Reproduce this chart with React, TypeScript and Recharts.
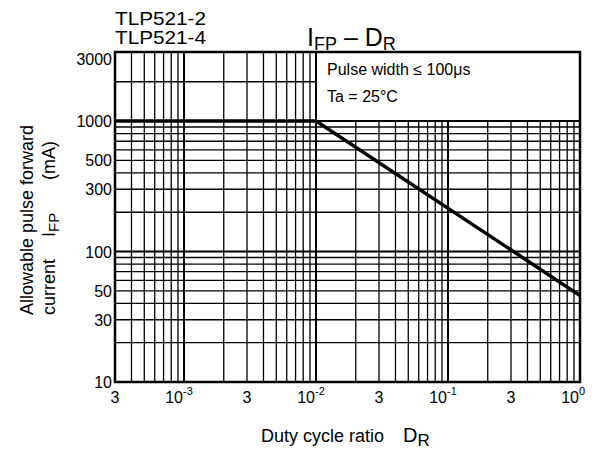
import React from 'react';
import {
  ComposedChart,
  Line,
  XAxis,
  YAxis,
  ReferenceLine,
  ReferenceArea,
} from 'recharts';

// ---------------------------------------------------------------------------
// Data
// ---------------------------------------------------------------------------

const dutyCycle = [3e-4, 1e-2, 1];
const pulseCurrent = [1000, 1000, 46];

const xTicks = [3e-4, 1e-3, 3e-3, 1e-2, 3e-2, 1e-1, 3e-1, 1];
const xTickLabels = ['3', '10^-3', '3', '10^-2', '3', '10^-1', '3', '10^0'];
const yTicks = [10, 30, 50, 100, 300, 500, 1000, 3000];

const xGrid = [
  4e-4, 5e-4, 6e-4, 7e-4, 8e-4, 9e-4,
  1e-3, 2e-3, 3e-3, 4e-3, 5e-3, 6e-3, 7e-3, 8e-3, 9e-3,
  1e-2, 2e-2, 3e-2, 4e-2, 5e-2, 6e-2, 7e-2, 8e-2, 9e-2,
  1e-1, 2e-1, 3e-1, 4e-1, 5e-1, 6e-1, 7e-1, 8e-1, 9e-1,
];
const yGrid = [
  20, 30, 40, 50, 60, 70, 80, 90,
  100, 200, 300, 400, 500, 600, 700, 800, 900,
  1000, 2000,
];
const majorLines = [1e-3, 1e-2, 1e-1, 100, 1000];

const X_MIN = 3e-4;
const X_MAX = 1;
const Y_MIN = 10;
const Y_MAX = 3380;
// note box sits above this corner
const BOX_X = 1e-2;
const BOX_Y = 1000;

const FONT = '"Liberation Sans", Arial, Helvetica, sans-serif';

const chartData = dutyCycle.map((x, i) => ({ x, y: pulseCurrent[i] }));

// ---------------------------------------------------------------------------
// Ticks
// ---------------------------------------------------------------------------

function XTick({ x, y, index }: any) {
  const label = xTickLabels[index] ?? '';
  const [base, exp] = label.split('^');
  if (!exp) {
    return (
      <text x={x} y={y + 14} textAnchor="middle" fontSize={16} fontFamily={FONT} fill="#000">
        {base}
      </text>
    );
  }
  return (
    <g>
      <text x={x - 1} y={y + 14} textAnchor="end" fontSize={16} fontFamily={FONT} fill="#000">
        {base}
      </text>
      <text x={x - 1} y={y + 6} textAnchor="start" fontSize={11} fontFamily={FONT} fill="#000">
        {exp}
      </text>
    </g>
  );
}

function YTick({ x, y, payload }: any) {
  return (
    <text x={x} y={y + 6} textAnchor="end" fontSize={16} fontFamily={FONT} fill="#000">
      {payload.value}
    </text>
  );
}

// ---------------------------------------------------------------------------
// Component
// ---------------------------------------------------------------------------

export default function App() {
  return (
    <div style={{ position: 'absolute', left: 0, top: 0, width: 599, height: 450, background: '#fff' }}>
      <ComposedChart
        width={599}
        height={450}
        data={chartData}
        margin={{ top: 52, right: 19, bottom: 38, left: 55 }}
      >
        <XAxis
          dataKey="x"
          type="number"
          scale="log"
          domain={[X_MIN, X_MAX]}
          allowDataOverflow
          ticks={xTicks}
          interval={0}
          tick={<XTick />}
          tickLine={false}
          tickSize={0}
          tickMargin={7}
          height={30}
          axisLine={false}
        />
        <YAxis
          type="number"
          scale="log"
          domain={[Y_MIN, Y_MAX]}
          allowDataOverflow
          ticks={yTicks}
          interval={0}
          tick={<YTick />}
          tickLine={false}
          tickSize={0}
          tickMargin={3}
          width={60}
          axisLine={false}
        />

        {xGrid.map((v) => (
          <ReferenceLine
            key={`vx-${v}`}
            segment={
              v > BOX_X
                ? [{ x: v, y: Y_MIN }, { x: v, y: BOX_Y }]
                : [{ x: v, y: Y_MIN }, { x: v, y: Y_MAX }]
            }
            stroke="#000"
            strokeWidth={majorLines.includes(v) ? 2 : 1.3}
          />
        ))}
        {yGrid.map((v) => (
          <ReferenceLine
            key={`hy-${v}`}
            segment={
              v > BOX_Y
                ? [{ x: X_MIN, y: v }, { x: BOX_X, y: v }]
                : [{ x: X_MIN, y: v }, { x: X_MAX, y: v }]
            }
            stroke="#000"
            strokeWidth={majorLines.includes(v) ? 2 : 1.3}
          />
        ))}

        {/* condition box */}
        <ReferenceArea
          x1={BOX_X}
          x2={X_MAX}
          y1={BOX_Y}
          y2={Y_MAX}
          fill="#fff"
          fillOpacity={1}
          stroke="#000"
          strokeWidth={2}
        />
        {/* plot frame */}
        <ReferenceArea
          x1={X_MIN}
          x2={X_MAX}
          y1={Y_MIN}
          y2={Y_MAX}
          fill="none"
          stroke="#000"
          strokeWidth={2.5}
        />

        <Line
          dataKey="y"
          type="linear"
          stroke="#000"
          strokeWidth={3.5}
          dot={false}
          activeDot={false}
          isAnimationActive={false}
        />
      </ComposedChart>

      <svg
        width={599}
        height={450}
        style={{ position: 'absolute', left: 0, top: 0, pointerEvents: 'none' }}
        fontFamily={FONT}
        fill="#000"
      >
        <text x={115} y={25} fontSize={18} textLength={91} lengthAdjust="spacingAndGlyphs">TLP521-2</text>
        <text x={115} y={44} fontSize={18} textLength={91} lengthAdjust="spacingAndGlyphs">TLP521-4</text>

        <text x={307} y={46} fontSize={25}>
          I<tspan fontSize={18} dy={4}>FP</tspan>
          <tspan dy={-4}> – D</tspan>
          <tspan fontSize={18} dy={4}>R</tspan>
        </text>

        <text x={327} y={75} fontSize={16}>Pulse width ≤ 100μs</text>
        <text x={327} y={102} fontSize={16}>Ta = 25°C</text>

        <text x={261} y={442} fontSize={18}>Duty cycle ratio</text>
        <text x={403} y={442} fontSize={20}>
          D<tspan fontSize={17} dy={4}>R</tspan>
        </text>

        <text transform="translate(33,315) rotate(-90)" fontSize={18}>
          Allowable pulse forward
        </text>
        <text transform="translate(55,315) rotate(-90)" fontSize={18}>current</text>
        <text transform="translate(55,237) rotate(-90)" fontSize={18}>
          I<tspan fontSize={15} dy={4}>FP</tspan>
        </text>
        <text transform="translate(55,180) rotate(-90)" fontSize={18}>(mA)</text>
      </svg>
    </div>
  );
}
